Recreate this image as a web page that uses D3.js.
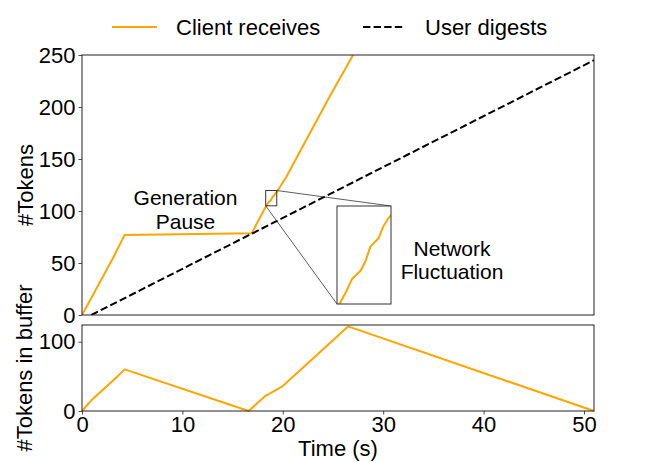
<!DOCTYPE html>
<html>
<head>
<meta charset="utf-8">
<script src="https://cdn.jsdelivr.net/npm/d3@7"></script>
<style>
  body { margin: 0; background: #fff; }
  svg text { font-family: "Liberation Sans", Arial, sans-serif; fill: #000; }
</style>
</head>
<body>
<div id="chart"></div>
<script>
"use strict";

// data
var clientTime   = [0, 3.09, 4.25, 16.9, 18.35, 18.47, 18.61, 18.78, 18.88, 18.98, 19.15, 19.24, 19.35, 19.4, 20.36, 24.67, 27.0];
var clientTokens = [0, 54.8, 77.0, 78.5, 105.0, 106.6, 108.8, 110.0, 111.4, 113.6, 114.9, 116.6, 117.9, 118.3, 133, 210, 250];

var userTime   = [0.93, 51];
var userTokens = [0, 245];

var bufferTime   = [0, 0.93, 3.1, 4.25, 16.6, 18.2, 20.0, 26.5, 51];
var bufferTokens = [0, 15.4, 44, 60, 0, 21, 36, 122, 0];

var topTicks = [0, 50, 100, 150, 200, 250];
var bottomTicks = [0, 100];
var xTicks = [0, 10, 20, 30, 40, 50];

var zoomX = [18.3, 19.4];
var zoomY = [105, 119.7];

var client = clientTime.map((t, i) => ({ t: t, v: clientTokens[i] }));
var user = userTime.map((t, i) => ({ t: t, v: userTokens[i] }));
var buffer = bufferTime.map((t, i) => ({ t: t, v: bufferTokens[i] }));

var W = 660, H = 462;
var ORANGE = "#ffa500";
var FS = "22px";

var svg = d3.select("#chart")
    .append("svg")
    .attr("width", W)
    .attr("height", H);

// layout
var left = 82, right = 594;
var topPanel = { y0: 55, y1: 315 };
var botPanel = { y0: 325, y1: 411 };

// scales
var x = d3.scaleLinear().domain([0, 51]).range([left, right]);
var yTop = d3.scaleLinear().domain([0, 250]).range([topPanel.y1, topPanel.y0]);
var yBot = d3.scaleLinear().domain([0, 124]).range([botPanel.y1, botPanel.y0]);

// clip paths
var defs = svg.append("defs");
defs.append("clipPath").attr("id", "clip-top")
    .append("rect")
    .attr("x", left).attr("y", topPanel.y0)
    .attr("width", right - left).attr("height", topPanel.y1 - topPanel.y0);

// top panel lines
var lineTop = d3.line().x(d => x(d.t)).y(d => yTop(d.v));

svg.append("path")
    .datum(client)
    .attr("clip-path", "url(#clip-top)")
    .attr("fill", "none")
    .attr("stroke", ORANGE)
    .attr("stroke-width", 2)
    .attr("stroke-linejoin", "round")
    .attr("d", lineTop);

svg.append("path")
    .datum(user)
    .attr("clip-path", "url(#clip-top)")
    .attr("fill", "none")
    .attr("stroke", "#000")
    .attr("stroke-width", 2)
    .attr("stroke-dasharray", "7.4,3.2")
    .attr("d", lineTop);

// top axes
svg.append("g")
    .attr("transform", `translate(${left},0)`)
    .call(d3.axisLeft(yTop).tickValues(topTicks).tickSize(3.5).tickPadding(3))
    .call(g => g.select(".domain").remove())
    .selectAll("text").style("font-size", FS);

svg.append("rect")
    .attr("x", left).attr("y", topPanel.y0)
    .attr("width", right - left).attr("height", topPanel.y1 - topPanel.y0)
    .attr("fill", "none").attr("stroke", "#222").attr("stroke-width", 1);

// zoom box + inset
var inset = { x0: 337, x1: 391, y0: 206, y1: 304 };
var xi = d3.scaleLinear().domain(zoomX).range([inset.x0, inset.x1]);
var yi = d3.scaleLinear().domain(zoomY).range([inset.y1, inset.y0]);

svg.append("rect")
    .attr("x", x(zoomX[0])).attr("y", yTop(zoomY[1]))
    .attr("width", x(zoomX[1]) - x(zoomX[0]))
    .attr("height", yTop(zoomY[0]) - yTop(zoomY[1]))
    .attr("fill", "none").attr("stroke", "#333").attr("stroke-width", 1);

// connectors
svg.append("line")
    .attr("x1", x(zoomX[1])).attr("y1", yTop(zoomY[1]))
    .attr("x2", inset.x1).attr("y2", inset.y0)
    .attr("stroke", "#333").attr("stroke-width", 0.8);
svg.append("line")
    .attr("x1", x(zoomX[0])).attr("y1", yTop(zoomY[0]))
    .attr("x2", inset.x0).attr("y2", inset.y1)
    .attr("stroke", "#333").attr("stroke-width", 0.8);

defs.append("clipPath").attr("id", "clip-inset")
    .append("rect")
    .attr("x", inset.x0).attr("y", inset.y0)
    .attr("width", inset.x1 - inset.x0).attr("height", inset.y1 - inset.y0);

svg.append("rect")
    .attr("x", inset.x0).attr("y", inset.y0)
    .attr("width", inset.x1 - inset.x0).attr("height", inset.y1 - inset.y0)
    .attr("fill", "#fff");

svg.append("path")
    .datum(client)
    .attr("clip-path", "url(#clip-inset)")
    .attr("fill", "none")
    .attr("stroke", ORANGE)
    .attr("stroke-width", 2)
    .attr("stroke-linejoin", "round")
    .attr("d", d3.line().x(d => xi(d.t)).y(d => yi(d.v)));

svg.append("rect")
    .attr("x", inset.x0).attr("y", inset.y0)
    .attr("width", inset.x1 - inset.x0).attr("height", inset.y1 - inset.y0)
    .attr("fill", "none").attr("stroke", "#333").attr("stroke-width", 1);

// annotations (one text per line so boxes don't overlap)
function label(cx, y, s) {
    svg.append("text")
        .attr("text-anchor", "middle")
        .attr("x", cx).attr("y", y)
        .style("font-size", "21px")
        .text(s);
}
label(185.5, 205, "Generation");
label(185.5, 228.5, "Pause");
label(452, 255.5, "Network");
label(452, 279, "Fluctuation");

// bottom panel
svg.append("path")
    .datum(buffer)
    .attr("fill", "none")
    .attr("stroke", ORANGE)
    .attr("stroke-width", 2)
    .attr("stroke-linejoin", "round")
    .attr("d", d3.line().x(d => x(d.t)).y(d => yBot(d.v)));

svg.append("g")
    .attr("transform", `translate(${left},0)`)
    .call(d3.axisLeft(yBot).tickValues(bottomTicks).tickSize(3.5).tickPadding(3))
    .call(g => g.select(".domain").remove())
    .selectAll("text").style("font-size", FS);

svg.append("g")
    .attr("transform", `translate(0,${botPanel.y1})`)
    .call(d3.axisBottom(x).tickValues(xTicks).tickSize(3.5).tickPadding(2))
    .call(g => g.select(".domain").remove())
    .selectAll("text").style("font-size", FS);

svg.append("rect")
    .attr("x", left).attr("y", botPanel.y0)
    .attr("width", right - left).attr("height", botPanel.y1 - botPanel.y0)
    .attr("fill", "none").attr("stroke", "#222").attr("stroke-width", 1);

svg.selectAll(".tick line").attr("stroke", "#222").attr("stroke-width", 0.8);

// axis labels
svg.append("text")
    .attr("text-anchor", "middle")
    .attr("x", (left + right) / 2)
    .attr("y", 456)
    .style("font-size", FS)
    .text("Time (s)");

svg.append("text")
    .attr("text-anchor", "middle")
    .attr("transform", `translate(33,${(topPanel.y0 + topPanel.y1) / 2}) rotate(-90)`)
    .style("font-size", FS)
    .text("#Tokens");

svg.append("text")
    .attr("text-anchor", "middle")
    .attr("transform", `translate(32,${(botPanel.y0 + botPanel.y1) / 2}) rotate(-90)`)
    .style("font-size", FS)
    .text("#Tokens in buffer");

// legend
var legend = svg.append("g");
legend.append("line")
    .attr("x1", 112).attr("x2", 157).attr("y1", 27).attr("y2", 27)
    .attr("stroke", ORANGE).attr("stroke-width", 2);
legend.append("text")
    .attr("x", 176).attr("y", 35)
    .style("font-size", FS)
    .text("Client receives");
legend.append("line")
    .attr("x1", 363).attr("x2", 405).attr("y1", 27).attr("y2", 27)
    .attr("stroke", "#000").attr("stroke-width", 2)
    .attr("stroke-dasharray", "7.4,3.2");
legend.append("text")
    .attr("x", 425).attr("y", 35)
    .style("font-size", FS)
    .text("User digests");
</script>
</body>
</html>
